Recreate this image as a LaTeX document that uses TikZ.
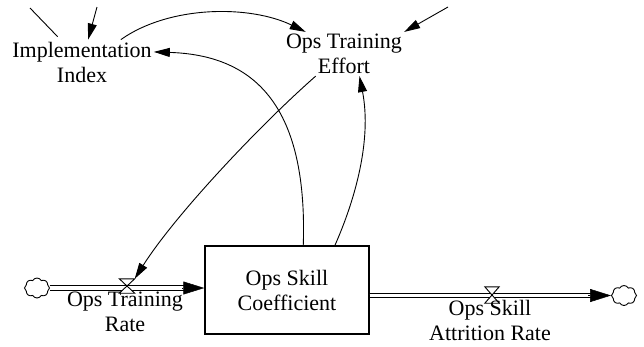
\documentclass[tikz,border=0pt]{standalone}
\usepackage{fontspec}
\setmainfont{Liberation Serif}
\usetikzlibrary{arrows.meta,shapes.symbols,calc}

\begin{document}
\begin{tikzpicture}[x=1pt,y=-1pt,
  lbl/.style={font=\fontsize{22}{25}\selectfont, align=center, inner sep=2pt},
  stockbox/.style={lbl, draw, line width=1.4pt, minimum width=164pt, minimum height=88pt},
  link/.style={line width=0.9pt, -{Triangle[length=16pt,width=9pt]}},
  plainlink/.style={line width=0.9pt},
  pipe/.style={line width=1pt, double, double distance=3.2pt},
  pipehead/.style={line width=0.5pt, -{Triangle[length=21pt,width=13pt]}},
  sink/.style={cloud, cloud puffs=8, cloud puff arc=120, draw, line width=0.9pt,
    minimum width=25pt, minimum height=20pt, inner sep=0pt},
  valve/.style={minimum width=15pt, minimum height=14pt, inner sep=0pt},
  hourglass/.style={draw, fill=white, line width=0.9pt}
]
\useasboundingbox (0,0) rectangle (644,346);

% auxiliaries and stock
\node[lbl] (impl) at (82,62) {Implementation\\Index};
\node[lbl] (effort) at (344,54) {Ops Training\\Effort};
\node[stockbox] (box) at (287,290) {Ops Skill\\Coefficient};

% sources and sinks
\node[sink] (cl) at (37,288) {};
\node[sink] (cr) at (624,295.5) {};

% inflow pipe
\draw[pipe, shorten >=19pt] (cl.east) -- (box.west |- cl.east);
\draw[pipehead] ($(box.west |- cl.east)+(-22,0)$) -- (box.west |- cl.east);

% outflow pipe
\draw[pipe, shorten >=20pt] (box.east |- cr.west) -- (cr.west);
\draw[pipehead] ($(cr.west)+(-23,0)$) -- (cr.west);

% valves
\node[valve] (v1) at (127,286) {};
\draw[hourglass] (v1.north west) -- (v1.north east) -- (v1.south west) -- (v1.south east) -- cycle;
\node[valve, minimum width=14pt, minimum height=16pt] (v2) at (492,295) {};
\draw[hourglass] (v2.north west) -- (v2.north east) -- (v2.south west) -- (v2.south east) -- cycle;

% flow labels
\node[lbl] (rin) at (125,312) {Ops Training\\Rate};
\node[lbl] (rout) at (490,320) {Ops Skill\\Attrition Rate};

% incoming links from off the diagram
\coordinate (f1) at (30,8);
\coordinate (f2) at (97,7);
\coordinate (f3) at (448,7);
\draw[plainlink, shorten >=4pt] (f1) -- (impl);
\draw[link] (f2) -- (impl);
\draw[link] (f3) -- (effort.north east);

% causal links
\draw[link] (impl.30) .. controls (170,5) and (250,5) .. (effort.150);
\draw[link] (box.70) .. controls (308,100) and (250,55) .. (impl.8);
\draw[link] (effort.218) .. controls (260,125) and (175,215) .. (v1.north east);
\draw[link] (box.43) .. controls (355,200) and (372,140) .. (effort.-55);
\end{tikzpicture}
\end{document}
